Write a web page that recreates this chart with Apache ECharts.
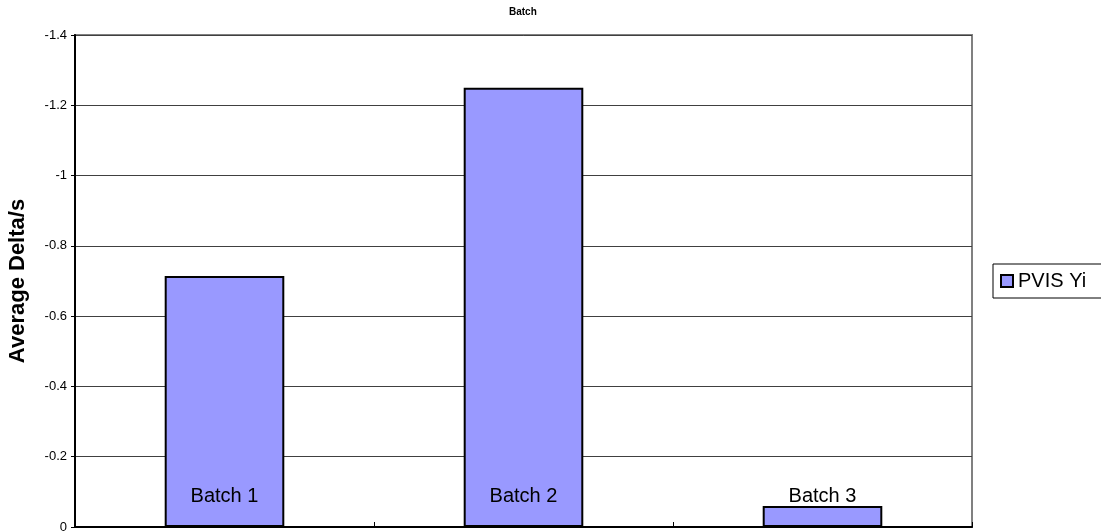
<!DOCTYPE html>
<html>
<head>
<meta charset="utf-8">
<script src="https://cdn.jsdelivr.net/npm/echarts@6/dist/echarts.min.js"></script>
<style>
  html, body { margin: 0; padding: 0; background: #fff; }
  #chart { width: 1101px; height: 531px; }
</style>
</head>
<body>
<div id="chart"></div>
<script>
// Batch averages
const categories = ['Batch 1', 'Batch 2', 'Batch 3'];
const seriesName = 'PVIS Yi';
const values = [-0.714, -1.25, -0.06];
const yMin = -1.4;
const yMax = 0;
const yStep = 0.2;

const chart = echarts.init(document.getElementById('chart'));
const font = 'Liberation Sans, Arial, sans-serif';

chart.setOption({
  animation: false,
  backgroundColor: '#fff',
  textStyle: { fontFamily: font },
  title: {
    text: 'Batch',
    left: 509,
    top: 7,
    padding: 0,
    textStyle: { fontSize: 10, fontWeight: 'bold', color: '#000', fontFamily: font }
  },
  legend: {
    data: [seriesName],
    left: 993,
    top: 264,
    orient: 'vertical',
    padding: [7, 40, 7, 7],
    borderColor: '#000',
    borderWidth: 1,
    itemWidth: 12,
    itemHeight: 12,
    itemGap: 0,
    icon: 'rect',
    textStyle: { fontSize: 20, color: '#000', fontFamily: font }
  },
  grid: {
    left: 75,
    right: 129,
    top: 35,
    bottom: 4,
    containLabel: false,
    outerBoundsMode: 'none',
    show: true,
    borderColor: '#808080',
    borderWidth: 2,
    backgroundColor: '#fff'
  },
  xAxis: {
    type: 'category',
    data: categories,
    axisLine: { show: true, lineStyle: { color: '#000', width: 2 } },
    axisTick: { show: true, inside: true, length: 5, lineStyle: { color: '#000', width: 1 } },
    axisLabel: { show: false },
    splitLine: { show: false }
  },
  yAxis: {
    type: 'value',
    inverse: true,
    min: yMin,
    max: yMax,
    interval: yStep,
    name: 'Average Delta/s',
    nameLocation: 'middle',
    nameGap: 46,
    nameTextStyle: { fontSize: 22, fontWeight: 'bold', color: '#000', fontFamily: font },
    axisLine: { show: true, lineStyle: { color: '#000', width: 2 } },
    axisTick: { show: true, length: 4, lineStyle: { color: '#000' } },
    axisLabel: { fontSize: 13, color: '#000', margin: 8, fontFamily: font },
    splitLine: { show: true, lineStyle: { color: '#404040', width: 1 } }
  },
  series: [{
    name: seriesName,
    type: 'bar',
    data: values,
    barWidth: '40%',
    itemStyle: { color: '#9999FF', borderColor: '#000', borderWidth: 2 },
    label: {
      show: true,
      formatter: '{b}',
      position: 'insideBottom',
      distance: 21,
      fontSize: 20,
      color: '#000',
      fontFamily: font
    }
  }]
});
</script>
</body>
</html>
